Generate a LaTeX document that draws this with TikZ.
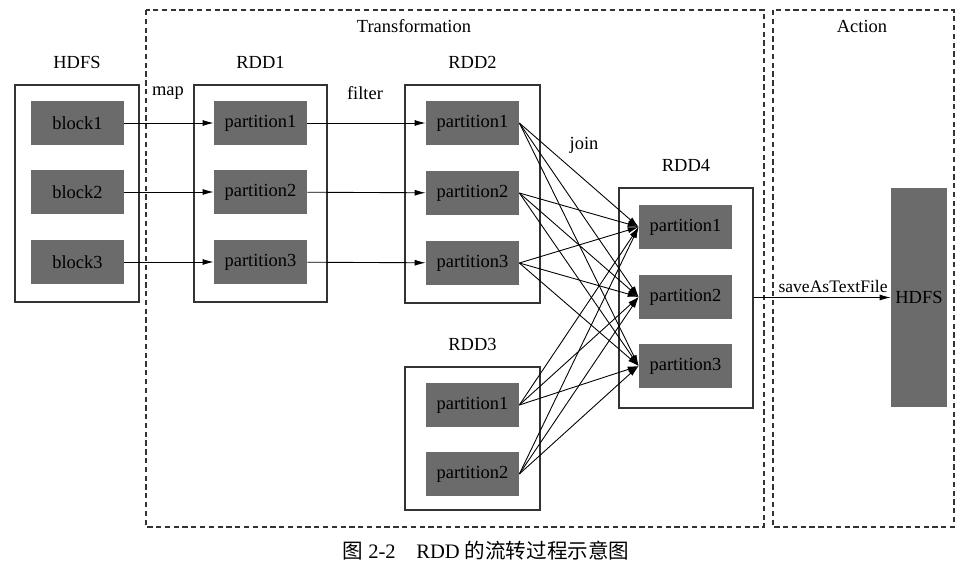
\documentclass[tikz,border=0pt]{standalone}
\usepackage{fontspec}
\setmainfont{Liberation Serif}
\newfontfamily\cjk{Noto Sans CJK SC}
\usetikzlibrary{positioning,arrows.meta}

\begin{document}
\begin{tikzpicture}[
    x=0.02cm, y=-0.02cm,
    part/.style={rectangle, fill=black!58, minimum width=1.86cm, minimum height=0.88cm, inner sep=0pt, font=\fontsize{10.5}{12}\selectfont},
    store/.style={rectangle, draw=black!80, line width=0.6pt, minimum width=2.66cm, minimum height=4.34cm},
    stage/.style={rectangle, draw=black!80, line width=0.6pt, dash pattern=on 3pt off 2pt},
    title/.style={font=\fontsize{10.5}{12}\selectfont},
    arr/.style={-{Latex[length=2.2mm,width=1.2mm]}, line width=0.5pt},
    node distance=0.2cm
]
    \useasboundingbox (0,0) rectangle (978,571);

    % stages
    \draw[stage] (146,10) rectangle (764,527);
    \draw[stage] (773,10) rectangle (954,527);
    \node[title] (trans) at (414,26) {Transformation};
    \node[title] (action) at (862,26) {Action};

    % HDFS input
    \node[store, minimum width=2.48cm] (hdfs) at (77,193.5) {};
    \node[title, above=of hdfs] {HDFS};
    \foreach \i/\y in {1/123,2/192,3/262}
        \node[part] (blk\i) at (77.5,\y) {block\i};

    % RDD1
    \node[store] (rdd1) at (260.5,193.5) {};
    \node[title, above=of rdd1] {RDD1};
    \foreach \i/\y in {1/123,2/192,3/262}
        \node[part] (rdd1p\i) at (260.5,\y) {partition\i};

    % RDD2
    \node[store, minimum width=2.7cm, minimum height=4.36cm] (rdd2) at (472.5,194) {};
    \node[title, above=of rdd2] {RDD2};
    \foreach \i/\y in {1/123,2/193,3/263}
        \node[part] (rdd2p\i) at (472.5,\y) {partition\i};

    % RDD3
    \node[store, minimum width=2.7cm, minimum height=2.86cm] (rdd3) at (472.5,438.5) {};
    \node[title, above=of rdd3] {RDD3};
    \foreach \i/\y in {1/405,2/474}
        \node[part] (rdd3p\i) at (472.5,\y) {partition\i};

    % RDD4
    \node[store, minimum width=2.68cm, minimum height=4.4cm] (rdd4) at (686,298) {};
    \node[title, above=of rdd4] {RDD4};
    \foreach \i/\y in {1/227,2/297,3/366}
        \node[part] (rdd4p\i) at (685.5,\y) {partition\i};

    % HDFS output
    \node[part, minimum width=1.12cm, minimum height=4.38cm] (out) at (919,297.5) {HDFS};

    % map and filter
    \foreach \i in {1,2,3} {
        \draw[arr] (blk\i) -- (rdd1p\i);
        \draw[arr] (rdd1p\i) -- (rdd2p\i);
    }
    \node[title] at (168,93) {map};
    \node[title] at (365,93) {filter};

    % join
    \foreach \s in {rdd2p1,rdd2p2,rdd2p3,rdd3p1,rdd3p2}
        \foreach \t in {rdd4p1,rdd4p2,rdd4p3}
            \draw[arr] (\s.east) -- (\t.west);
    \node[title] at (584,145) {join};

    % action
    \draw[arr] (rdd4.east |- out.west) -- node[font=\fontsize{10}{12}\selectfont, above, pos=0.58, inner sep=2.5pt] {saveAsTextFile} (out.west);

    \node[font=\fontsize{11.7}{14}\selectfont] (cap) at (486,551) {{\cjk 图} 2-2\quad RDD {\cjk 的流转过程示意图}};
\end{tikzpicture}
\end{document}
